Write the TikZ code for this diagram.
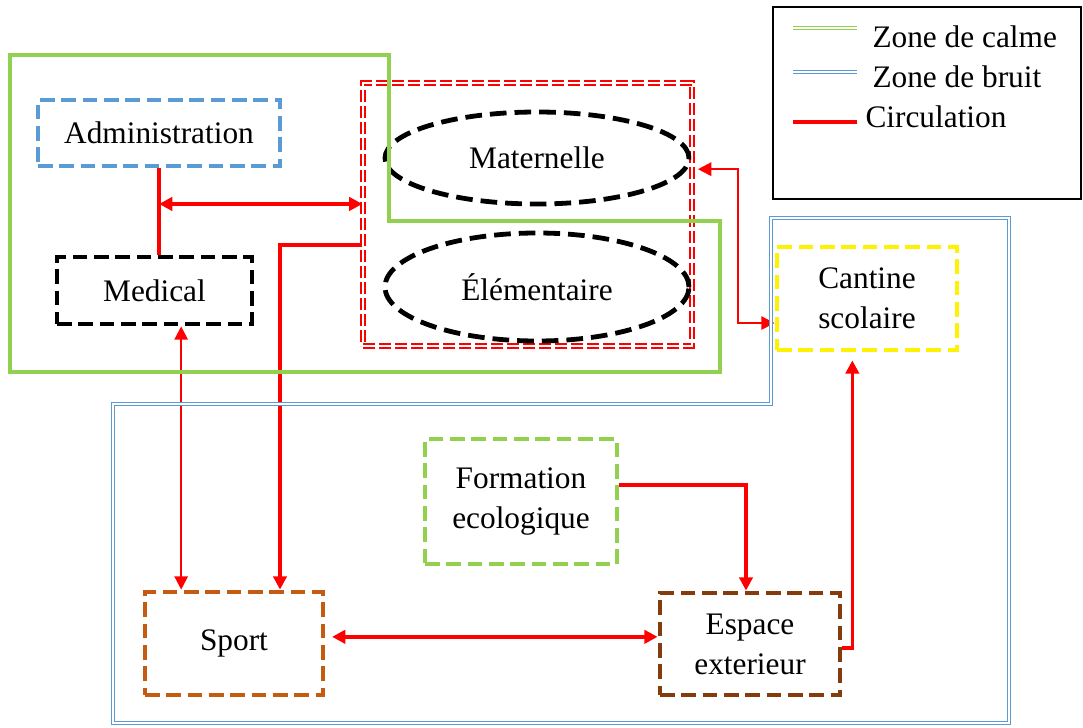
\documentclass[tikz,border=0pt]{standalone}
\usepackage{fontspec}
\setmainfont{Liberation Serif}
\usetikzlibrary{arrows.meta,shapes.geometric}

\definecolor{calme}{RGB}{146,208,80}
\definecolor{bruit}{RGB}{91,155,213}
\definecolor{sportc}{RGB}{197,90,17}
\definecolor{espacec}{RGB}{132,60,12}

\tikzset{every picture/.style={line width=0.75pt}}

\begin{document}
\begin{tikzpicture}[x=0.75pt,y=0.75pt,yscale=-1,xscale=1,
		>={Triangle[length=10pt,width=10pt]},
		txt/.style={font=\fontsize{23.5pt}{30pt}\selectfont},
		bloc/.style={txt, draw, dash pattern=on 11pt off 5pt, line width=3.6pt, inner sep=0pt, align=center},
		salle/.style={txt, ellipse, draw=black, dash pattern=on 12.5pt off 6pt, line width=3.6pt, inner sep=0pt},
		circ/.style={draw=red, line width=2.6pt},
		circfin/.style={draw=red, line width=1.6pt},
		zcalme/.style={draw=calme, line width=3pt},
		zbruit/.style={draw=bruit, line width=1pt, double=white, double distance=1.5pt}]
		
		\useasboundingbox (0,0) rectangle (1083,728);
		
		\node[draw=red, line width=0.9pt, double=white, double distance=2pt, dash pattern=on 9pt off 3pt, minimum width=246.75pt, minimum height=197.25pt, inner sep=0pt] (ecole) at (527.5,214.5) {};
		\node[salle, minimum width=228pt, minimum height=69pt] (maternelle) at (537,158) {Maternelle};
		\node[salle, minimum width=228pt, minimum height=81pt] (elementaire) at (537,287) {Élémentaire};
		
		\node[bloc, draw=bruit, minimum width=181.5pt, minimum height=49.5pt] (admin) at (159,133) {Administration};
		\node[bloc, draw=black, minimum width=146.25pt, minimum height=50.25pt] (medical) at (154.5,290.5) {Medical};
		\node[bloc, draw=yellow, minimum width=135pt, minimum height=77.25pt] (cantine) at (867,298.5) {Cantine\\scolaire};
		\node[bloc, draw=calme, minimum width=144pt, minimum height=93.75pt] (formation) at (521,501.5) {Formation\\ecologique};
		\node[bloc, draw=sportc, minimum width=133.5pt, minimum height=77.25pt] (sport) at (234,643.5) {Sport};
		\node[bloc, draw=espacec, minimum width=135pt, minimum height=76.5pt] (espace) at (750,644) {Espace\\exterieur};
		
		\draw[circ] (admin.south) -- (admin.south |- medical.north);
		\coordinate (pa) at ([yshift=-7.9pt]ecole.west);
		\draw[circ, <->] (admin.south |- pa) -- (pa);
		
		\coordinate (pb) at ([yshift=23pt]ecole.west);
		\coordinate (pc) at ([xshift=34.5pt]sport.north);
		\draw[circ, ->] (pb) -| (pc);
		
		\coordinate (pd) at ([xshift=20pt]medical.south);
		\draw[circfin, <->] (pd) -- (pd |- sport.north);
		
		\coordinate (pe) at ([yshift=-5pt]sport.east);
		\draw[circ, <->, shorten <=5pt] (pe) -- (pe -| espace.west);
		
		\coordinate (pf) at ([yshift=-12.4pt]formation.east);
		\coordinate (pg) at ([xshift=-3pt]espace.north);
		\draw[circ, ->] (pf) -| (pg);
		
		\coordinate (ph) at ([yshift=3pt]espace.east);
		\coordinate (pi) at ([xshift=-11pt]cantine.south);
		\draw[circ, ->, shorten >=6pt] (ph) -| (pi);
		
		\coordinate (pj) at ([yshift=-34pt]ecole.east);
		\coordinate (pk) at ([yshift=18.4pt]cantine.west);
		\draw[circfin, <->, shorten <=4pt] (pj) -- ++(45,0) |- (pk);
		
		\draw[zcalme] (10,55) -- (389,55) -- (389,221) -- (720,221) -- (720,372) -- (10,372) -- cycle;
		\draw[zbruit] (771,218) -- (1009,218) -- (1009,723) -- (113,723) -- (113,404) -- (771,404) -- cycle;
		
		\node[draw, line width=1pt, minimum width=231pt, minimum height=144pt] (legende) at (927,103) {};
		\draw[zbruit, draw=calme] (793,28) -- (857,28);
		\draw[zbruit] (793,72) -- (857,72);
		\draw[circ, line width=3pt] (793,122) -- (857,122);
		\node[txt, anchor=west, inner sep=0pt] (lcalme) at (872,37) {Zone de calme};
		\node[txt, anchor=west, inner sep=0pt] (lbruit) at (872,77) {Zone de bruit};
		\node[txt, anchor=west, inner sep=0pt] (lcirc) at (865,117) {Circulation};
		
	\end{tikzpicture}
\end{document}
